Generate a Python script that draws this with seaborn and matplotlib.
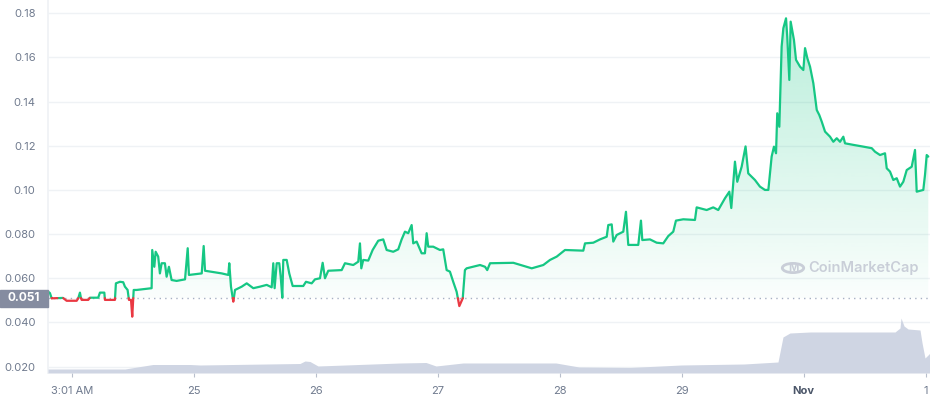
import numpy as np
import pandas as pd
import matplotlib
matplotlib.use("Agg")
import matplotlib.pyplot as plt
import matplotlib.transforms as mtransforms
from matplotlib.patches import Rectangle, Circle
import seaborn as sns

# price line (x in days from the "3:01 AM" tick)
days = [-0.197, -0.183, -0.169, -0.076, -0.046, 0.036, 0.049, 0.063, 0.071, 0.077,
        0.131, 0.145, 0.213, 0.227, 0.263, 0.268, 0.350, 0.358, 0.391, 0.418,
        0.432, 0.454, 0.465, 0.482, 0.492, 0.504, 0.528, 0.651, 0.656, 0.673,
        0.684, 0.705, 0.719, 0.733, 0.760, 0.774, 0.793, 0.815, 0.856, 0.925,
        0.947, 0.957, 1.062, 1.078, 1.089, 1.226, 1.280, 1.288, 1.302, 1.321,
        1.335, 1.390, 1.431, 1.485, 1.540, 1.595, 1.636, 1.649, 1.660, 1.677,
        1.698, 1.710, 1.723, 1.731, 1.759, 1.780, 1.808, 1.895, 1.917, 1.964,
        1.991, 2.032, 2.054, 2.073, 2.100, 2.210, 2.237, 2.305, 2.346, 2.360,
        2.371, 2.387, 2.428, 2.464, 2.510, 2.551, 2.579, 2.633, 2.674, 2.702,
        2.729, 2.756, 2.784, 2.797, 2.825, 2.866, 2.893, 2.907, 2.920, 2.961,
        3.016, 3.043, 3.071, 3.098, 3.125, 3.153, 3.175, 3.203, 3.221, 3.235,
        3.345, 3.386, 3.404, 3.427, 3.618, 3.769, 3.864, 3.919, 3.974, 4.042,
        4.192, 4.206, 4.274, 4.329, 4.384, 4.397, 4.425, 4.438, 4.466, 4.520,
        4.542, 4.561, 4.643, 4.665, 4.676, 4.739, 4.794, 4.848, 4.889, 4.930,
        4.952, 5.012, 5.108, 5.122, 5.204, 5.258, 5.299, 5.354, 5.390, 5.406,
        5.436, 5.455, 5.491, 5.523, 5.545, 5.600, 5.641, 5.682, 5.710, 5.737,
        5.756, 5.773, 5.783, 5.800, 5.819, 5.833, 5.855, 5.865, 5.882, 5.893,
        5.920, 5.937, 5.970, 5.997, 6.011, 6.030, 6.052, 6.079, 6.107, 6.128,
        6.148, 6.175, 6.216, 6.243, 6.271, 6.298, 6.325, 6.339, 6.407, 6.489,
        6.558, 6.585, 6.626, 6.667, 6.681, 6.708, 6.735, 6.763, 6.790, 6.817,
        6.845, 6.886, 6.913, 6.927, 6.981, 6.995, 7.009, 7.022]
prices = [0.0539, 0.0533, 0.0509, 0.0511, 0.0498, 0.0498, 0.0509, 0.0535, 0.0511, 0.0502,
          0.0502, 0.0512, 0.0512, 0.0535, 0.0535, 0.0502, 0.0502, 0.0577, 0.0584, 0.0582,
          0.0562, 0.0547, 0.0502, 0.0502, 0.0426, 0.0547, 0.0547, 0.0555, 0.0728, 0.0652,
          0.0720, 0.0698, 0.0622, 0.0668, 0.0668, 0.0607, 0.0652, 0.0592, 0.0588, 0.0595,
          0.0736, 0.0615, 0.0622, 0.0746, 0.0634, 0.0622, 0.0615, 0.0668, 0.0562, 0.0494,
          0.0547, 0.0562, 0.0577, 0.0555, 0.0562, 0.0570, 0.0559, 0.0668, 0.0555, 0.0668,
          0.0668, 0.0607, 0.0512, 0.0683, 0.0683, 0.0622, 0.0565, 0.0565, 0.0584, 0.0577,
          0.0595, 0.0600, 0.0670, 0.0600, 0.0634, 0.0637, 0.0668, 0.0660, 0.0675, 0.0758,
          0.0645, 0.0683, 0.0680, 0.0728, 0.0770, 0.0776, 0.0728, 0.0720, 0.0731, 0.0776,
          0.0811, 0.0804, 0.0841, 0.0758, 0.0766, 0.0713, 0.0713, 0.0804, 0.0743, 0.0743,
          0.0728, 0.0731, 0.0637, 0.0630, 0.0584, 0.0539, 0.0474, 0.0509, 0.0637, 0.0645,
          0.0660, 0.0652, 0.0637, 0.0668, 0.0670, 0.0645, 0.0660, 0.0683, 0.0698, 0.0728,
          0.0725, 0.0758, 0.0761, 0.0776, 0.0788, 0.0841, 0.0844, 0.0766, 0.0796, 0.0811,
          0.0901, 0.0751, 0.0751, 0.0861, 0.0773, 0.0776, 0.0761, 0.0758, 0.0791, 0.0811,
          0.0861, 0.0867, 0.0864, 0.0921, 0.0909, 0.0921, 0.0909, 0.0962, 0.0992, 0.0918,
          0.1128, 0.1037, 0.1105, 0.1197, 0.1075, 0.1045, 0.1015, 0.1000, 0.1000, 0.1151,
          0.1196, 0.1166, 0.1347, 0.1286, 0.1649, 0.1732, 0.1777, 0.1694, 0.1498, 0.1762,
          0.1679, 0.1589, 0.1558, 0.1543, 0.1642, 0.1596, 0.1558, 0.1483, 0.1362, 0.1339,
          0.1309, 0.1264, 0.1241, 0.1218, 0.1234, 0.1218, 0.1241, 0.1211, 0.1204, 0.1196,
          0.1189, 0.1173, 0.1158, 0.1166, 0.1098, 0.1083, 0.1045, 0.1053, 0.1015, 0.1037,
          0.1090, 0.1105, 0.1181, 0.0992, 0.1000, 0.1068, 0.1158, 0.1151]

# volume (own scale, drawn along the bottom)
vol_days = [-0.199, 0.432, 0.662, 0.966, 1.048, 1.868, 1.909, 1.950, 2.016, 2.688,
            2.902, 2.984, 3.205, 3.968, 4.157, 4.575, 4.994, 5.510, 5.789, 5.830,
            5.887, 6.052, 6.544, 6.749, 6.790, 6.798, 6.823, 6.856, 6.954, 6.971,
            6.995, 7.020, 7.036]
volume = [0.4, 0.4, 0.85, 0.85, 0.8, 0.95, 1.2, 1.15, 0.7, 1.0,
          1.05, 0.7, 1.0, 1.0, 0.6, 0.55, 0.8, 0.9, 1.1, 3.6,
          4.0, 4.1, 4.1, 4.1, 4.5, 5.5, 4.7, 4.4, 4.3, 3.0,
          1.5, 1.8, 2.0]

open_price = 0.051
y_ticks = [0.02, 0.04, 0.06, 0.08, 0.10, 0.12, 0.14, 0.16, 0.18]
y_labels = ["0.020", "0.040", "0.060", "0.080", "0.10", "0.12", "0.14", "0.16", "0.18"]
x_labels = ["3:01 AM", "25", "26", "27", "28", "29", "Nov", "1"]

GREEN = "#16c784"
RED = "#ea3943"
LABEL = "#6f7a8e"

sns.set_theme(style="white")
plt.rcParams["font.family"] = ["Inter", "DejaVu Sans"]

# split the line where it crosses the opening price so each side gets its colour
d = np.array(days)
p = np.array(prices)
xs, ys = [d[0]], [p[0]]
for i in range(1, len(d)):
    a, b = p[i - 1] - open_price, p[i] - open_price
    if a * b < 0:
        t = a / (a - b)
        xs.append(d[i - 1] + t * (d[i] - d[i - 1]))
        ys.append(open_price)
    xs.append(d[i])
    ys.append(p[i])
xs, ys = np.array(xs), np.array(ys)

rows = []
seg = 0
prev_side = None
for i in range(len(xs) - 1):
    side = "up" if (ys[i] + ys[i + 1]) / 2 >= open_price else "down"
    if side != prev_side:
        seg += 1
        rows.append({"day": xs[i], "price": ys[i], "side": side, "seg": seg})
        prev_side = side
    rows.append({"day": xs[i + 1], "price": ys[i + 1], "side": side, "seg": seg})
df = pd.DataFrame(rows)

fig = plt.figure(figsize=(9.3, 4), dpi=100)
ax = fig.add_axes([48 / 930, 27 / 400, 882 / 930, 373 / 400])

xlim = (-0.199, 7.036)
ylim = (0.0171, 0.186)

# gradient fill between the line and the opening price
poly = ax.fill_between(xs, open_price, np.maximum(ys, open_price), color="none", lw=0)
rgba = np.zeros((256, 1, 4))
rgba[..., :3] = matplotlib.colors.to_rgb(GREEN)
rgba[..., 3] = np.linspace(0.02, 0.30, 256)[:, None]
im = ax.imshow(rgba, extent=[xlim[0], xlim[1], open_price, max(prices)],
               origin="lower", aspect="auto", zorder=1, interpolation="bilinear")
im.set_clip_path(poly.get_paths()[0], transform=ax.transData)
ax.fill_between(xs, open_price, np.minimum(ys, open_price), color=RED, alpha=0.08, lw=0)

ax.axhline(open_price, color="#a6b0c3", lw=1, ls=(0, (1, 3)), zorder=2)

sns.lineplot(data=df, x="day", y="price", hue="side", units="seg", estimator=None,
             palette={"up": GREEN, "down": RED}, linewidth=1.6, sort=False,
             legend=False, ax=ax, zorder=3)

ax.set_xlim(*xlim)
ax.set_ylim(*ylim)
ax.set_yticks(y_ticks)
ax.set_yticklabels(y_labels)
ax.set_xticks(range(len(x_labels)))
ax.set_xticklabels(x_labels)
ax.set_xlabel("")
ax.set_ylabel("")
ax.grid(axis="y", color="#eff2f5", lw=1)
ax.grid(axis="x", visible=False)
for s in ["top", "right", "bottom"]:
    ax.spines[s].set_visible(False)
ax.spines["left"].set_color("#eff2f5")
ax.tick_params(axis="y", length=0, pad=9, labelsize=8, labelcolor=LABEL)
ax.tick_params(axis="x", length=3, width=0.8, color="#b8bfcc", pad=6,
               labelsize=8, labelcolor=LABEL, bottom=True)
nov = ax.get_xticklabels()[6]
nov.set_fontweight("bold")
nov.set_color("#4a5568")

# volume area on its own axis
ax2 = ax.twinx()
ax2.fill_between(vol_days, 0, volume, color="#cfd5e3", lw=0)
ax2.set_ylim(0, 37.3)
ax2.set_xlim(*xlim)
ax2.set_yticks([])
for s in ax2.spines.values():
    s.set_visible(False)

# current/open price tag on the left
trans = mtransforms.blended_transform_factory(fig.transFigure, ax.transData)
ax.add_patch(Rectangle((0.0, open_price - 0.0039), 48 / 930, 0.0078,
                       transform=trans, color="#858ca0", clip_on=False, zorder=5))
ax.text(24 / 930, open_price, "0.051", transform=trans, ha="center", va="center",
        color="white", fontsize=8.5, fontweight="bold", zorder=6)

# watermark
ax.add_patch(Circle((793 / 930, (400 - 268) / 400), 0.0115, transform=fig.transFigure,
                    fill=False, ec="#c9ced8", lw=2, zorder=4))
fig.text(793 / 930, (400 - 268) / 400, "M", ha="center", va="center",
         color="#c9ced8", fontsize=8, fontweight="bold")
fig.text(808 / 930, (400 - 268) / 400, "CoinMarketCap", ha="left", va="center",
         color="#c9ced8", fontsize=10.5, fontweight="semibold")

fig.savefig("out.png", dpi=100)
